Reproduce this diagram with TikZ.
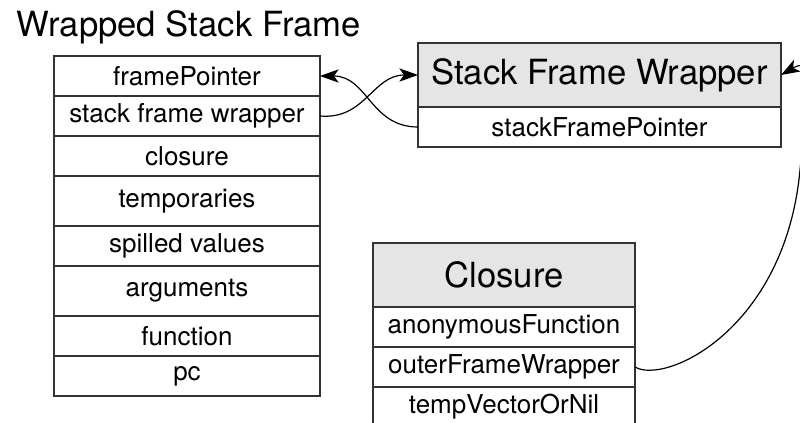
\documentclass[tikz,border=0pt]{standalone}
\usepackage{fontspec}
\setmainfont{TeX Gyre Heros}
\usepackage{tikz}
\usetikzlibrary{positioning, arrows.meta}

\begin{document}
\begin{tikzpicture}[
  x=0.75pt, y=0.75pt,
  slot/.style={draw=black!80, line width=1pt, outer sep=0pt, inner sep=0pt,
               minimum height=30pt, font=\fontsize{19.5}{22}\selectfont},
  fslot/.style={slot, minimum width=199.5pt},
  cslot/.style={slot, minimum width=196.5pt},
  wslot/.style={slot, minimum width=272.25pt},
  head/.style={slot, fill=gray!20, minimum height=48pt,
               font=\fontsize{26}{30}\selectfont},
  link/.style={-{Stealth[length=14pt, width=10pt, inset=3.5pt]}, line width=0.9pt},
]
  \useasboundingbox (0,0) rectangle (800,-423);

  \node[anchor=base west, font=\fontsize{26}{30}\selectfont] (title) at (12,-37)
    {Wrapped Stack Frame};

  % frame slots
  \node[fslot, anchor=north west] (fp) at (54,-56) {framePointer};
  \node[fslot, below=0pt of fp] (sfw) {stack frame wrapper};
  \node[fslot, below=0pt of sfw] (clo) {closure};
  \node[fslot, below=0pt of clo, minimum height=37.5pt] (tmp) {temporaries};
  \node[fslot, below=0pt of tmp] (spv) {spilled values};
  \node[fslot, below=0pt of spv, minimum height=37.5pt] (args) {arguments};
  \node[fslot, below=0pt of args] (fn) {function};
  \node[fslot, below=0pt of fn] (pc) {pc};

  % wrapper object
  \node[head, anchor=north west, minimum width=272.25pt] (sfwHead) at (418,-43)
    {Stack Frame Wrapper};
  \node[wslot, below=0pt of sfwHead] (sfp) {stackFramePointer};

  % closure object
  \node[head, anchor=north west, minimum width=196.5pt] (cloHead) at (373,-243)
    {Closure};
  \node[cslot, below=0pt of cloHead] (anf) {anonymousFunction};
  \node[cslot, below=0pt of anf] (ofw) {outerFrameWrapper};
  \node[cslot, below=0pt of ofw] (tvn) {tempVectorOrNil};

  \draw[link] (sfw.east) to[out=-5, in=180, looseness=1.1] (sfwHead.west);
  \draw[link] (sfp.west) to[out=180, in=0, looseness=1.1] (fp.east);

  \coordinate (loop) at (800,-170);
  \draw[link] (ofw.east) .. controls +(30,-18) and +(-15,-160) .. (loop)
    .. controls +(6,65) and +(40,23) .. (sfwHead.east);
\end{tikzpicture}
\end{document}
